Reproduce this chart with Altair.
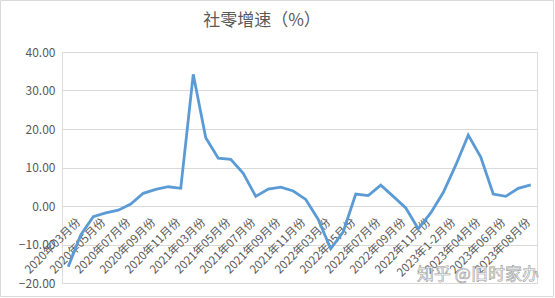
import altair as alt
import pandas as pd

months = [
    "2020年03月份", "2020年04月份", "2020年05月份", "2020年06月份", "2020年07月份",
    "2020年08月份", "2020年09月份", "2020年10月份", "2020年11月份", "2020年12月份",
    "2021年03月份", "2021年04月份", "2021年05月份", "2021年06月份", "2021年07月份",
    "2021年08月份", "2021年09月份", "2021年10月份", "2021年11月份", "2021年12月份",
    "2022年03月份", "2022年04月份", "2022年05月份", "2022年06月份", "2022年07月份",
    "2022年08月份", "2022年09月份", "2022年10月份", "2022年11月份", "2022年12月份",
    "2023年1-2月份", "2023年03月份", "2023年04月份", "2023年05月份", "2023年06月份",
    "2023年07月份", "2023年08月份", "2023年09月份",
]
values = [
    -15.8, -7.5, -2.8, -1.8, -1.1, 0.5, 3.3, 4.3, 5.0, 4.6,
    34.2, 17.7, 12.4, 12.1, 8.5, 2.5, 4.4, 4.9, 3.9, 1.7,
    -3.5, -11.1, -6.7, 3.1, 2.7, 5.4, 2.5, -0.5, -5.9, -1.8,
    3.5, 10.6, 18.4, 12.7, 3.1, 2.5, 4.6, 5.5,
]
y_ticks = [-20, -10, 0, 10, 20, 30, 40]
label_months = months[::2]
title_text = "社零增速（%）"
watermark_text = "知乎 @旧时家办"

df = pd.DataFrame({"month": months, "value": values})

FONT = "Noto Sans CJK SC"
GRAY = "#595959"

line = alt.Chart(df).mark_line(color="#5B9BD5", strokeWidth=2.8).encode(
    x=alt.X(
        "month:N",
        sort=months,
        scale=alt.Scale(type="point", padding=0.5),
        axis=alt.Axis(
            values=label_months, labelAngle=-45, labelOverlap=False,
            labelBound=False, labelFlush=False,
            ticks=False, domain=False, grid=False, title=None,
            offset=-77, labelPadding=10, labelOffset=6,
            labelFont=FONT, labelFontSize=11.5, labelColor=GRAY,
        ),
    ),
    y=alt.Y(
        "value:Q",
        scale=alt.Scale(domain=[-20, 40], nice=False, zero=False),
        axis=alt.Axis(
            values=y_ticks, format=".2f", title=None, domain=False, ticks=False,
            gridColor="#d9d9d9", gridWidth=1, labelPadding=7,
            labelFont=FONT, labelFontSize=12, labelColor=GRAY,
        ),
    ),
)

one = pd.DataFrame({"a": [0]})

border = alt.Chart(one).mark_rect(
    fill=None, stroke="#d9d9d9", strokeWidth=1
).encode(
    x=alt.value(-61.5), x2=alt.value(491.5), y=alt.value(-51.5), y2=alt.value(244.5)
)

title = alt.Chart(one).mark_text(
    text=title_text, font=FONT, fontSize=17, color=GRAY,
    align="center", baseline="middle",
).encode(x=alt.value(200), y=alt.value(-31))

watermark = alt.Chart(one).mark_text(
    text=watermark_text, font=FONT, fontSize=17, fill="white",
    stroke="#9a9a9a", strokeWidth=0.6, align="center", baseline="middle",
).encode(x=alt.value(416), y=alt.value(223))

chart = alt.layer(border, line, title, watermark).properties(
    width=475,
    height=231,
    autosize=alt.AutoSizeParams(type="none"),
    padding={"left": 62, "top": 52, "right": 18, "bottom": 15},
).configure_view(stroke=None).configure(background="white")

chart.save("out.html", embed_options={"renderer": "svg", "actions": False})
